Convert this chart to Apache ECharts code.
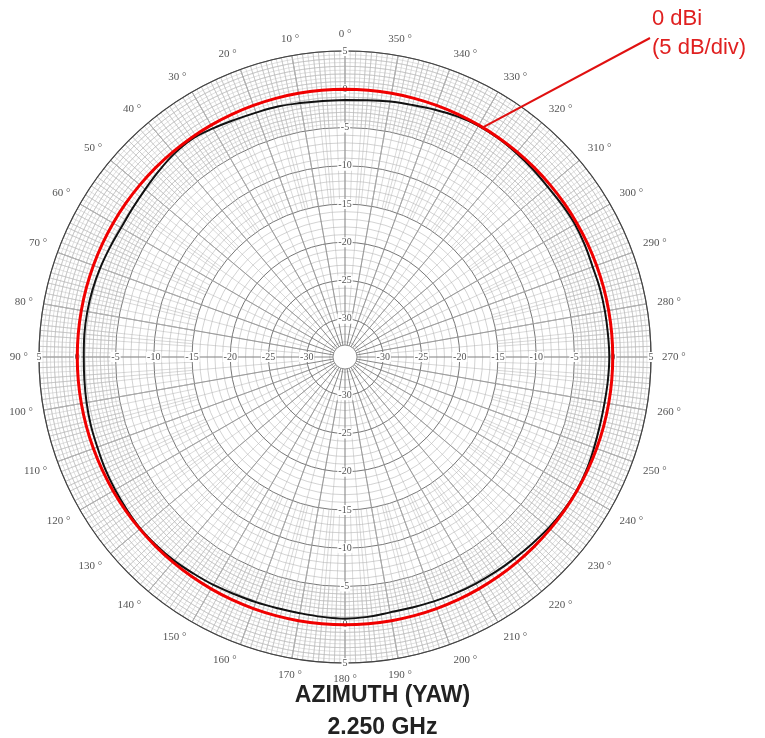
<!DOCTYPE html>
<html><head><meta charset="utf-8">
<script src="https://cdn.jsdelivr.net/npm/echarts/dist/echarts.min.js"></script>
<style>html,body{margin:0;padding:0;background:#fff}#c{width:765px;height:738px}</style>
</head><body><div id="c"></div>
<script>
// ---- data ----
const angles = [0,5,10,15,20,25,30,35,40,45,50,55,60,65,70,75,80,85,90,95,100,105,110,115,120,125,130,135,140,145,150,155,160,165,170,175,180,185,190,195,200,205,210,215,220,225,230,235,240,245,250,255,260,265,270,275,280,285,290,295,300,305,310,315,320,325,330,335,340,345,350,355,360];
const measuredGain = [-1.4,-1.4,-1.3,-1.1,-1.0,-0.8,-0.5,-0.2,-0.3,-0.6,-0.9,-1.1,-1.2,-1.1,-0.95,-0.85,-0.8,-0.8,-0.85,-0.8,-0.7,-0.6,-0.55,-0.4,-0.3,-0.2,-0.1,-0.15,-0.25,-0.45,-0.6,-0.8,-0.9,-1.0,-1.0,-0.9,-0.8,-0.9,-1.1,-1.1,-1.0,-0.9,-0.8,-0.7,-0.6,-0.45,-0.25,-0.1,-0.05,-0.15,-0.35,-0.5,-0.55,-0.5,-0.45,-0.5,-0.5,-0.5,-0.55,-0.4,-0.3,-0.35,-0.4,-0.3,-0.2,-0.1,-0.1,-0.3,-0.6,-0.9,-1.1,-1.3,-1.4];
const referenceGain = [0,0,0,0,0,0,0,0,0,0,0,0,0,0,0,0,0,0,0,0,0,0,0,0,0,0,0,0,0,0,0,0,0,0,0,0,0,0,0,0,0,0,0,0,0,0,0,0,0,0,0,0,0,0,0,0,0,0,0,0,0,0,0,0,0,0,0,0,0,0,0,0,0];
const radiusTickLabels = ['5','0','-5','-10','-15','-20','-25','-30'];
const angleUnit = ' °';
const titleLines = ['AZIMUTH (YAW)', '2.250 GHz'];
const annotationLines = ['0 dBi', '(5 dB/div)'];
const annotationAngle = 329;

// ---- layout ----
const CX = 345, CY = 357, R = 306, RMIN = -35, RMAX = 5;
const rOf = db => (db - RMIN) / (RMAX - RMIN) * R;
const SERIF = '"Liberation Serif", "DejaVu Serif", serif';

const hiddenAngle = (start) => ({
  type: 'value', min: 0, max: 360, startAngle: start, clockwise: false,
  axisLine: {show: false}, axisTick: {show: false}, axisLabel: {show: false}, splitLine: {show: false}
});
const hiddenRadius = (min, max) => ({
  type: 'value', min: min, max: max,
  axisLine: {show: false}, axisTick: {show: false}, axisLabel: {show: false}, splitLine: {show: false}
});

const polar = [], angleAxis = [], radiusAxis = [];
// P0: main grid (10° spokes, 5 dB circles, 1 dB minor circles)
polar.push({center: [CX, CY], radius: [0, R]});
angleAxis.push({
  type: 'value', min: 0, max: 360, interval: 10, startAngle: 90, clockwise: false, polarIndex: 0,
  axisLine: {lineStyle: {color: '#444', width: 1.2}},
  axisTick: {show: false},
  axisLabel: {margin: 11, color: '#555', fontFamily: SERIF, fontSize: 11,
    formatter: v => v === 360 ? '' : v + angleUnit},
  splitLine: {lineStyle: {color: '#6a6a6a', width: 0.8}}
});
radiusAxis.push({
  type: 'value', min: RMIN, max: RMAX, interval: 5, polarIndex: 0,
  axisLine: {show: false}, axisTick: {show: false}, axisLabel: {show: false},
  splitLine: {lineStyle: {color: '#666', width: 0.9}},
  minorTick: {show: false, splitNumber: 5},
  minorSplitLine: {show: true, lineStyle: {color: '#b5b5b5', width: 0.6}}
});
// Ring polars with denser spokes toward the outside
const rings = [
  {from: -30, step: 5, color: '#b0b0b0'},
  {from: -15, step: 2, color: '#b5b5b5'},
  {from: -5, step: 1, color: '#bdbdbd', minor: 10}
];
rings.forEach((g) => {
  const idx = polar.length;
  polar.push({center: [CX, CY], radius: [rOf(g.from), R]});
  angleAxis.push(Object.assign(hiddenAngle(90), {interval: g.step, polarIndex: idx,
    splitLine: {show: true, lineStyle: {color: g.color, width: 0.5}}}));
  const ra = Object.assign(hiddenRadius(g.from, RMAX), {polarIndex: idx});
  if (g.minor) {
    ra.interval = 5;
    ra.minorTick = {show: false, splitNumber: g.minor};
    ra.minorSplitLine = {show: true, lineStyle: {color: '#c0c0c0', width: 0.5}};
  }
  radiusAxis.push(ra);
});
// Label polars: radial dB labels along 0°, 90°, 180°, 270°
[90, 180, 270, 0].forEach((start) => {
  const idx = polar.length;
  polar.push({center: [CX, CY], radius: [0, R]});
  angleAxis.push(Object.assign(hiddenAngle(start), {polarIndex: idx}));
  radiusAxis.push({
    type: 'value', min: RMIN, max: RMAX, interval: 5, polarIndex: idx,
    axisLine: {show: false}, axisTick: {show: false}, splitLine: {show: false},
    axisLabel: {show: true, margin: 0, inside: false, rotate: 0, align: 'center', verticalAlign: 'middle',
      color: '#555', fontFamily: SERIF, fontSize: 10, backgroundColor: '#fff', padding: [0, 1],
      formatter: v => { const s = String(v); return radiusTickLabels.indexOf(s) >= 0 ? s : ''; }}
  });
});

const chart = echarts.init(document.getElementById('c'), null, {renderer: 'canvas'});
chart.setOption({
  backgroundColor: '#fff',
  animation: false,
  title: [
    {text: titleLines[0], left: 'center', top: 679, textStyle: {fontFamily: '"Liberation Sans", Arial, sans-serif', fontWeight: 'bold', fontSize: 23, color: '#222'}},
    {text: titleLines[1], left: 'center', top: 711, textStyle: {fontFamily: '"Liberation Sans", Arial, sans-serif', fontWeight: 'bold', fontSize: 23, color: '#222'}}
  ],
  polar: polar, angleAxis: angleAxis, radiusAxis: radiusAxis,
  series: [
    {type: 'line', coordinateSystem: 'polar', polarIndex: 0, name: 'Measured', showSymbol: false, smooth: 0.4,
      lineStyle: {color: '#111', width: 2}, z: 3,
      data: angles.map((a, i) => [measuredGain[i], a])},
    {type: 'line', coordinateSystem: 'polar', polarIndex: 0, name: '0 dBi', showSymbol: false, smooth: true,
      lineStyle: {color: '#f00000', width: 3}, z: 4,
      data: angles.map((a, i) => [referenceGain[i], a])}
  ]
});
const p = chart.convertToPixel({seriesIndex: 1}, [0, annotationAngle]);
const c0 = chart.convertToPixel({seriesIndex: 1}, [RMIN, 0]);
chart.setOption({
  graphic: [
    // small blank hub at the centre of the polar paper
    {type: 'circle', shape: {cx: c0[0], cy: c0[1], r: 12}, style: {fill: '#fff', stroke: '#777', lineWidth: 0.8}, z: 1},
    {type: 'line', shape: {x1: 650, y1: 38, x2: p[0], y2: p[1]}, style: {stroke: '#e01010', lineWidth: 2}, z: 10},
    {type: 'text', left: 652, top: 8, style: {text: annotationLines[0], fill: '#e02020', font: '22px "Liberation Sans", Arial, sans-serif'}, z: 10},
    {type: 'text', left: 652, top: 37, style: {text: annotationLines[1], fill: '#e02020', font: '22px "Liberation Sans", Arial, sans-serif'}, z: 10}
  ]
});
</script></body></html>
